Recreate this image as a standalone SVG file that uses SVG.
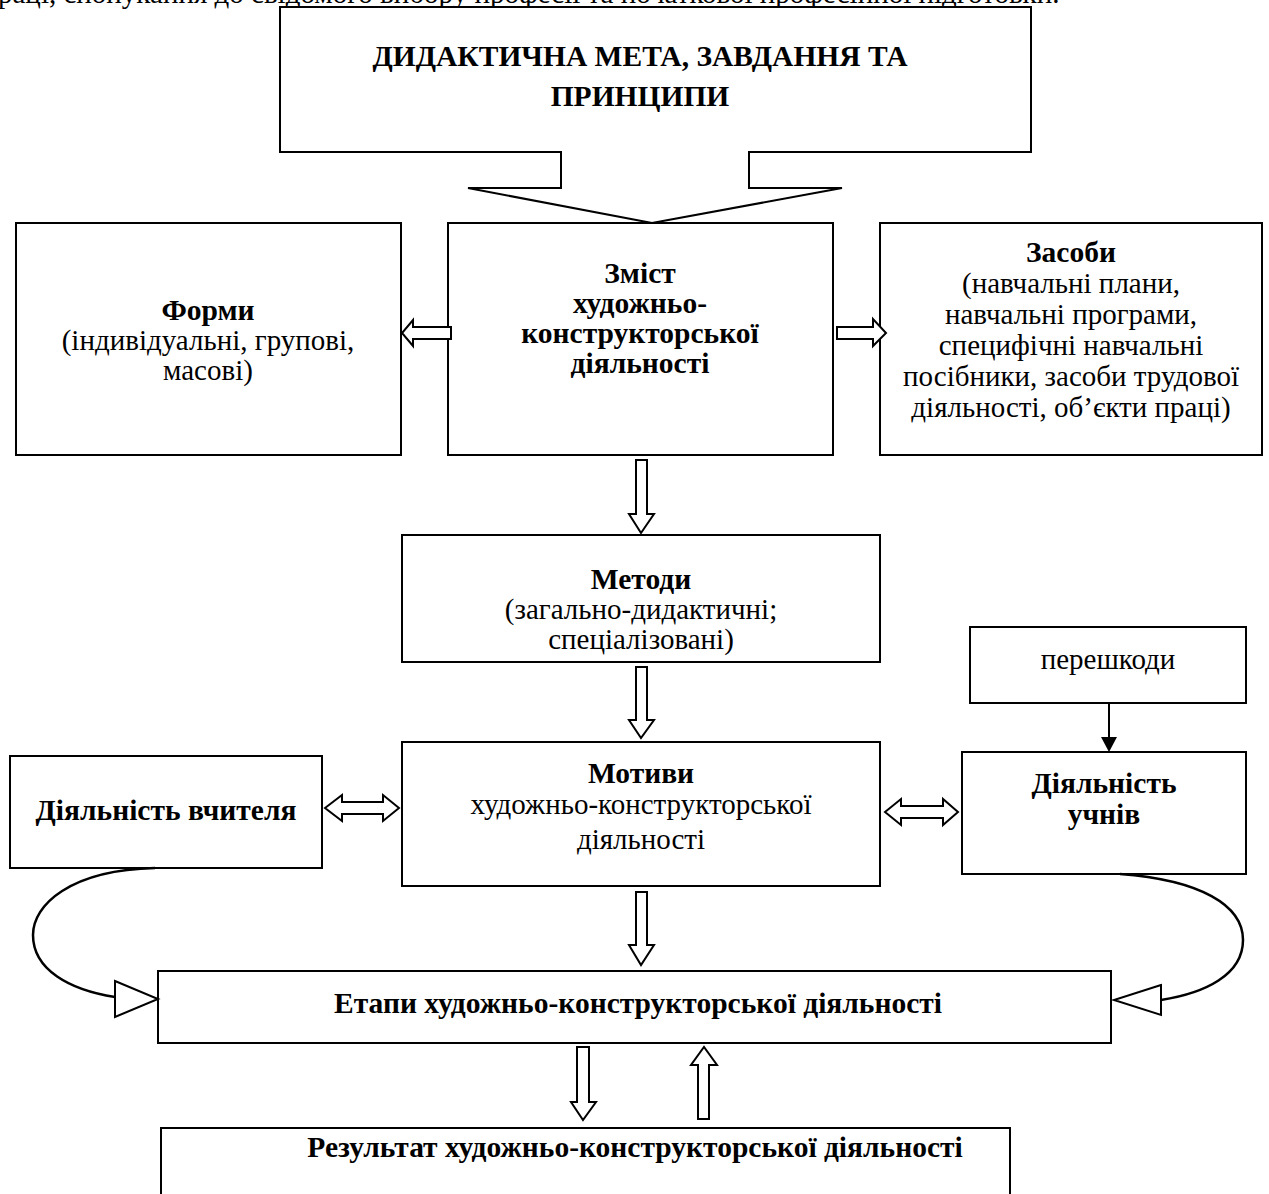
<svg xmlns="http://www.w3.org/2000/svg" width="1269" height="1194" viewBox="0 0 1269 1194">
<style>
text{font-family:"Liberation Serif","Times New Roman",serif;font-size:29px;fill:#000}
.b{font-weight:bold;font-size:29.5px}
.m{text-anchor:middle}
.box{fill:#fff;stroke:#000;stroke-width:2}
.arr{fill:#fff;stroke:#000;stroke-width:2;stroke-linejoin:miter}
.cur{fill:none;stroke:#000;stroke-width:2.5}
</style>
<rect width="1269" height="1194" fill="#fff"/>
<text x="-2" y="3">раці, спонукання до свідомого вибору професії та початкової професійної підготовки.</text>

<g id="goal">
<path class="box" d="M280,7 H1031 V152 H749 V188 H842 L652,223 L468,188 H561 V152 H280 Z"/>
<text class="b m" x="640" y="66">ДИДАКТИЧНА МЕТА, ЗАВДАННЯ ТА</text>
<text class="b m" x="640" y="106">ПРИНЦИПИ</text>
</g>

<g id="forms">
<rect class="box" x="16" y="223" width="385" height="232"/>
<text class="b m" x="208" y="320">Форми</text>
<text class="m" x="208" y="350">(індивідуальні, групові,</text>
<text class="m" x="208" y="380">масові)</text>
</g>

<g id="content">
<rect class="box" x="448" y="223" width="385" height="232"/>
<text class="b m" x="640" y="283">Зміст</text>
<text class="b m" x="640" y="313">художньо-</text>
<text class="b m" x="640" y="343">конструкторської</text>
<text class="b m" x="640" y="373">діяльності</text>
</g>

<g id="means">
<rect class="box" x="880" y="223" width="382" height="232"/>
<text class="b m" x="1071" y="262">Засоби</text>
<text class="m" x="1071" y="293">(навчальні плани,</text>
<text class="m" x="1071" y="324">навчальні програми,</text>
<text class="m" x="1071" y="355">специфічні навчальні</text>
<text class="m" x="1071" y="386">посібники, засоби трудової</text>
<text class="m" x="1071" y="417">діяльності, об’єкти праці)</text>
</g>

<g id="methods">
<rect class="box" x="402" y="535" width="478" height="127"/>
<text class="b m" x="641" y="589">Методи</text>
<text class="m" x="641" y="619">(загально-дидактичні;</text>
<text class="m" x="641" y="649">спеціалізовані)</text>
</g>

<g id="obstacles">
<rect class="box" x="970" y="627" width="276" height="76"/>
<text class="m" x="1108" y="669">перешкоди</text>
</g>

<g id="teacher">
<rect class="box" x="10" y="756" width="312" height="112"/>
<text class="b m" x="166" y="820">Діяльність вчителя</text>
</g>

<g id="motives">
<rect class="box" x="402" y="742" width="478" height="144"/>
<text class="b m" x="641" y="783">Мотиви</text>
<text class="m" x="641" y="814">художньо-конструкторської</text>
<text class="m" x="641" y="849">діяльності</text>
</g>

<g id="students">
<rect class="box" x="962" y="752" width="284" height="122"/>
<text class="b m" x="1104" y="793">Діяльність</text>
<text class="b m" x="1104" y="824">учнів</text>
</g>

<g id="stages">
<rect class="box" x="158" y="971" width="953" height="72"/>
<text class="b m" x="638" y="1013">Етапи художньо-конструкторської діяльності</text>
</g>

<g id="result">
<path class="box" d="M161,1196 V1128 H1010 V1196"/>
<text class="b m" x="635" y="1157">Результат художньо-конструкторської діяльності</text>
</g>

<g id="connectors">
<polygon class="arr" points="451,327 413,327 413,320 402,333 413,346 413,339 451,339"/>
<polygon class="arr" points="837,327 873,327 873,319 886,333 873,346 873,339 837,339"/>
<polygon class="arr" points="636,460 647,460 647,514 654,514 641,533 629,514 636,514"/>
<polygon class="arr" points="636,667 647,667 647,720 654,720 641,738 629,720 636,720"/>
<polygon class="arr" points="636,892 647,892 647,945 654,945 641,965 629,945 636,945"/>
<polygon class="arr" points="325,808 342,795 342,802 383,802 383,795 399,808 383,821 383,814 342,814 342,821"/>
<polygon class="arr" points="885,812 901,799 901,806 943,806 943,799 958,812 943,825 943,818 901,818 901,825"/>
<polygon class="arr" points="577,1047 589,1047 589,1102 596,1102 583,1120 571,1102 577,1102"/>
<polygon class="arr" points="698,1119 709,1119 709,1065 717,1065 704,1047 691,1065 698,1065"/>
<line x1="1109" y1="703" x2="1109" y2="738" stroke="#000" stroke-width="2"/>
<polygon points="1101,737 1117,737 1109,752" fill="#000"/>
<path class="cur" d="M155,868 C70,870 33,905 33,935 C33,970 70,990 115,997"/>
<polygon class="arr" points="115,981 158,999 115,1017"/>
<path class="cur" d="M1120,874 C1200,880 1243,905 1243,940 C1243,975 1205,993 1161,1000"/>
<polygon class="arr" points="1161,985 1114,1000 1161,1015"/>
</g>
</svg>
